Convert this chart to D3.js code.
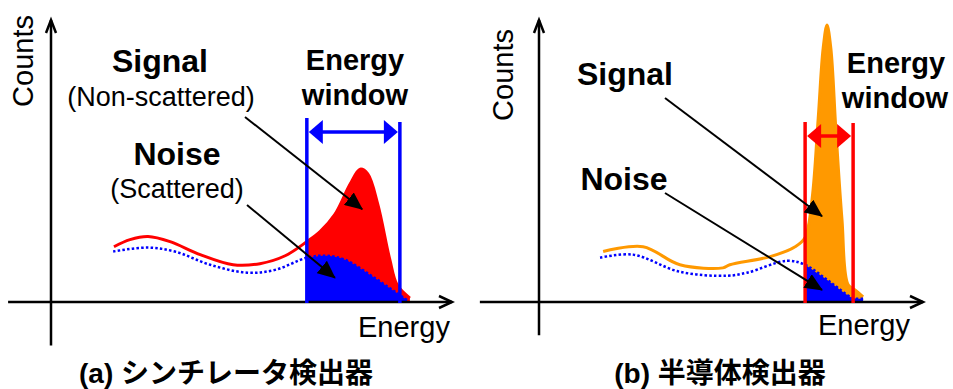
<!DOCTYPE html>
<html lang="ja">
    <head>
        <meta charset="utf-8">
        <title>Energy window</title>
        <script type="text/javascript" src="https://d3js.org/d3.v7.min.js"></script>
        <style type="text/css">
          body { margin: 0; background: #fff; }
          text { font-family: "Liberation Sans", Arial, "Noto Sans CJK JP", sans-serif; fill: #000; }
          .cap { font-family: "Liberation Sans", Arial, "Noto Sans CJK JP", sans-serif; font-weight: bold; }
        </style>
    </head>
    <body>
        <svg width="953" height="389"></svg>
        <script type="text/javascript">

            const svg = d3.select("svg");
            const w = 953;
            const h = 389;

            // (a) scintillator: energy (0-100) and counts (0-100)
            const energyA = [15.7, 19.7, 24.2, 29.7, 37.2, 45.4, 52.1, 58.4, 63.8, 67.1, 70.8, 74.6, 77.1, 79.0, 81.5, 84.5, 86.3, 89.5];
            const totalA  = [19.6, 22.1, 23.2, 21.4, 16.8, 13.2, 13.6, 16.4, 21.4, 25.0, 31.1, 41.8, 47.1, 45.4, 34.6, 15.0, 6.1, 1.4];
            const noiseEnergyA = [15.5, 23.9, 30.9, 39.7, 48.9, 55.9, 63.8, 68.8, 73.3, 79.6, 85.8, 88.8];
            const noiseA       = [17.9, 19.3, 17.9, 13.2, 10.4, 11.4, 15.7, 16.4, 15.0, 9.6, 3.6, 0.7];
            const windowA = [63.8, 87.0];

            // (b) semiconductor
            const energyB = [16.7, 27.1, 36.7, 47.9, 49.7, 60.2, 66.7, 69.3, 71.1, 72.7, 74.0, 75.0, 76.0, 77.3, 78.9, 80.5, 82.3, 84.4];
            const totalB  = [17.9, 19.6, 13.2, 12.1, 13.2, 16.1, 19.6, 22.9, 36.4, 65.0, 90.0, 98.2, 90.0, 61.4, 29.3, 6.1, 4.3, 1.8];
            const noiseEnergyB = [15.9, 24.5, 36.7, 49.0, 54.2, 64.6, 69.3, 75.5, 81.8, 84.4];
            const noiseB       = [15.7, 16.8, 10.7, 9.3, 10.4, 14.6, 13.2, 7.4, 1.4, 1.2];
            const windowB = [69.3, 81.8];

            // annotation arrow tips [energy, counts]
            const tipsA = [[77.6, 32.9], [70.8, 8.6]];
            const tipsB = [[73.7, 30.4], [73.7, 4.3]];

            const captions = ["(a) シンチレータ検出器", "(b) 半導体検出器"];

            svg.append("rect").attr("width", w).attr("height", h).attr("fill", "#fff");

            svg.append("defs").append("marker")
               .attr("id", "tri")
               .attr("viewBox", "0 0 18 16")
               .attr("refX", 17).attr("refY", 8)
               .attr("markerWidth", 18).attr("markerHeight", 16)
               .attr("markerUnits", "userSpaceOnUse")
               .attr("orient", "auto")
               .append("path").attr("d", "M0,0 L18,8 L0,16 Z").attr("fill", "#000");

            const panels = [
              {xr: [51, 452], axisX: [-10.7, 100], axisY: [-15.4, 100],
               energy: energyA, total: totalA, nE: noiseEnergyA, noise: noiseA, win: windowA,
               lineColor: "#ff0000", fillColor: "#ff0000", winColor: "#0000ff", winTop: [118, 122],
               tips: tipsA, tails: [[245, 117], [247, 205]],
               labels: [
                 {t: "Signal", x: 160, y: 72, s: 32, b: true},
                 {t: "(Non-scattered)", x: 161, y: 106, s: 27},
                 {t: "Noise", x: 177, y: 165, s: 32, b: true},
                 {t: "(Scattered)", x: 177, y: 198, s: 27},
                 {t: "Energy", x: 355, y: 70, s: 29, b: true},
                 {t: "window", x: 355, y: 105, s: 29, b: true}],
               counts: [33, 61], elabel: [358, 337], cap: [226, 383]},
              {xr: [539, 923], axisX: [-15.4, 100], axisY: [-11.8, 100],
               energy: energyB, total: totalB, nE: noiseEnergyB, noise: noiseB, win: windowB,
               lineColor: "#ff9900", fillColor: "#ff9900", winColor: "#ff0000", winTop: [122, 123],
               tips: tipsB, tails: [[665, 98], [665, 193]],
               labels: [
                 {t: "Signal", x: 625, y: 85, s: 32, b: true},
                 {t: "Noise", x: 624, y: 190, s: 32, b: true},
                 {t: "Energy", x: 896, y: 73, s: 29, b: true},
                 {t: "window", x: 895, y: 108, s: 29, b: true}],
               counts: [513, 75], elabel: [818, 335], cap: [720, 383]}
            ];

            panels.forEach((p, i) => {
              const x = d3.scaleLinear().domain([0, 100]).range(p.xr);
              const y = d3.scaleLinear().domain([0, 100]).range([302, 20]);
              const g = svg.append("g");

              const tot = p.energy.map((e, k) => ({e: e, c: p.total[k]}));
              const noi = p.nE.map((e, k) => ({e: e, c: p.noise[k]}));
              const line = d3.line().x(d => x(d.e)).y(d => y(d.c)).curve(d3.curveCatmullRom);
              const area = d3.area().x(d => x(d.e)).y0(y(0)).y1(d => y(d.c)).curve(d3.curveCatmullRom);

              // signal + noise
              g.append("path").attr("d", area(tot.filter(d => d.e >= p.win[0])))
               .attr("fill", p.fillColor);
              g.append("path").attr("d", line(tot))
               .attr("fill", "none").attr("stroke", p.lineColor).attr("stroke-width", 3);

              // noise
              g.append("path").attr("d", area(noi.filter(d => d.e >= p.win[0])))
               .attr("fill", "#0000ff");
              g.append("path").attr("d", line(noi))
               .attr("fill", "none").attr("stroke", "#0000ff").attr("stroke-width", 2.5)
               .attr("stroke-dasharray", "2.5,2.2");

              // axes
              g.append("line")
               .attr("x1", x(p.axisX[0])).attr("x2", x(p.axisX[1]))
               .attr("y1", y(0)).attr("y2", y(0))
               .attr("stroke", "#000").attr("stroke-width", 2.5);
              g.append("path")
               .attr("d", `M${x(p.axisX[1]) - 13},${y(0) - 6} L${x(p.axisX[1])},${y(0)} L${x(p.axisX[1]) - 13},${y(0) + 6}`)
               .attr("fill", "none").attr("stroke", "#000").attr("stroke-width", 2.5);
              g.append("line")
               .attr("x1", x(0)).attr("x2", x(0))
               .attr("y1", y(p.axisY[0])).attr("y2", y(p.axisY[1]))
               .attr("stroke", "#000").attr("stroke-width", 2.5);
              g.append("path")
               .attr("d", `M${x(0) - 5},${y(100) + 13} L${x(0)},${y(100)} L${x(0) + 5},${y(100) + 13}`)
               .attr("fill", "none").attr("stroke", "#000").attr("stroke-width", 2.5);

              // energy window
              g.selectAll(".win").data(p.win).join("line")
               .attr("x1", d => x(d)).attr("x2", d => x(d))
               .attr("y1", (d, k) => p.winTop[k]).attr("y2", y(0) + 1)
               .attr("stroke", p.winColor).attr("stroke-width", 3.5);
              const ay = p.winTop[0] + 14;
              const l = x(p.win[0]) + 2, r = x(p.win[1]) - 2;
              g.append("line").attr("x1", l + 10).attr("x2", r - 10).attr("y1", ay).attr("y2", ay)
               .attr("stroke", p.winColor).attr("stroke-width", 3.5);
              g.append("path").attr("d", `M${l},${ay} L${l + 14},${ay - 12} L${l + 14},${ay + 12} Z`).attr("fill", p.winColor);
              g.append("path").attr("d", `M${r},${ay} L${r - 14},${ay - 12} L${r - 14},${ay + 12} Z`).attr("fill", p.winColor);

              // annotation arrows
              p.tips.forEach((t, k) => {
                g.append("line")
                 .attr("x1", p.tails[k][0]).attr("y1", p.tails[k][1])
                 .attr("x2", x(t[0])).attr("y2", y(t[1]))
                 .attr("stroke", "#000").attr("stroke-width", 2)
                 .attr("marker-end", "url(#tri)");
              });

              // text
              g.selectAll(".lab").data(p.labels).join("text")
               .attr("x", d => d.x).attr("y", d => d.y)
               .attr("text-anchor", "middle")
               .attr("font-size", d => d.s)
               .attr("font-weight", d => d.b ? "bold" : "normal")
               .text(d => d.t);
              g.append("text")
               .attr("transform", `translate(${p.counts[0]},${p.counts[1]}) rotate(-90)`)
               .attr("text-anchor", "middle").attr("font-size", 29).text("Counts");
              g.append("text")
               .attr("x", p.elabel[0]).attr("y", p.elabel[1])
               .attr("font-size", 29).text("Energy");
              g.append("text").attr("class", "cap")
               .attr("x", p.cap[0]).attr("y", p.cap[1])
               .attr("text-anchor", "middle").attr("font-size", 28)
               .text(captions[i]);
            });

        </script>
    </body>
</html>
